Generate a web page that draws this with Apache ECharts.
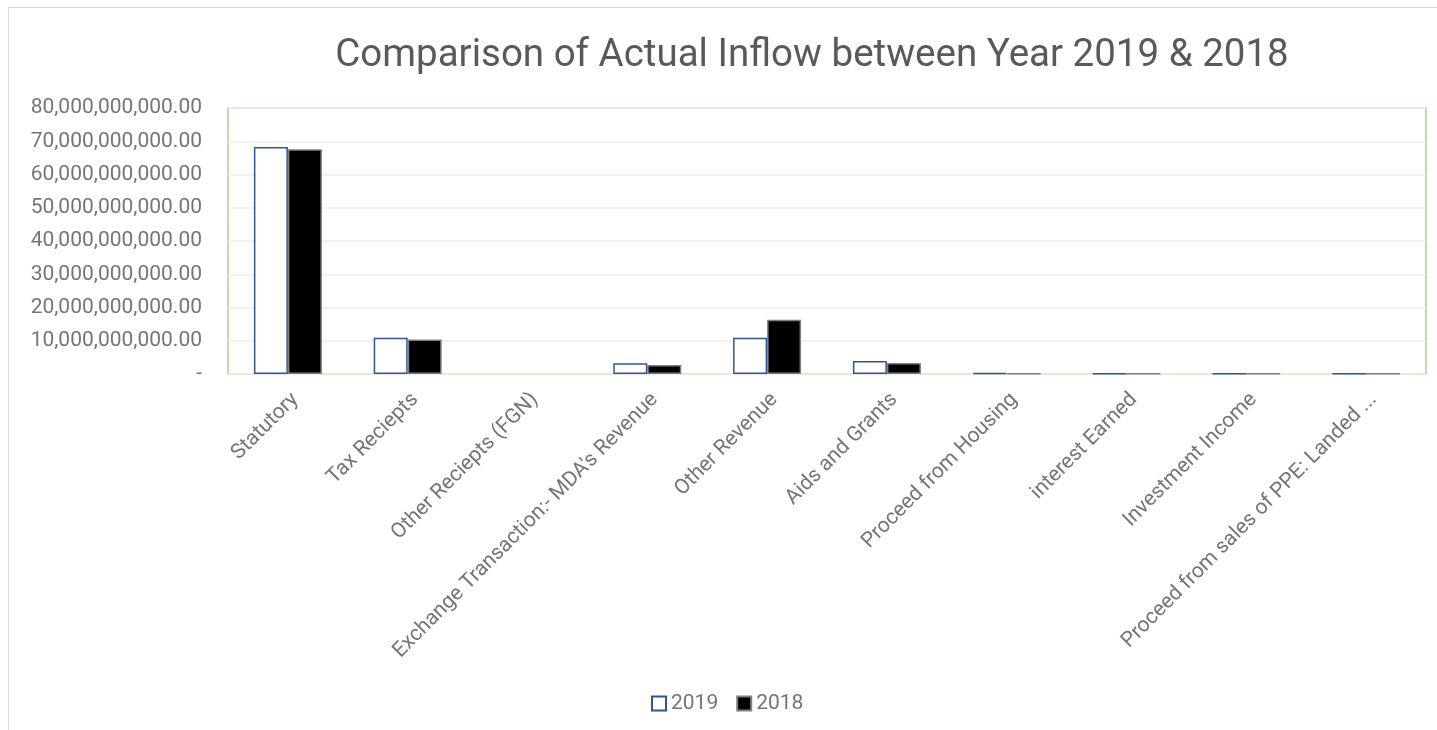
<!DOCTYPE html>
<html>
<head>
<meta charset="utf-8">
<script src="https://cdn.jsdelivr.net/npm/echarts@6/dist/echarts.min.js"></script>
<style>
  html, body { margin: 0; padding: 0; background: #fff; }
  #frame { position: absolute; left: 8px; top: 7px; width: 1440px; height: 740px; border-left: 1px solid #d9d9d9; border-top: 1px solid #d9d9d9; }
  #chart { position: absolute; left: 0; top: 0; width: 1437px; height: 730px; }
</style>
</head>
<body>
<div id="frame"></div>
<div id="chart"></div>
<script>
const categories = [
  'Statutory',
  'Tax Reciepts',
  'Other Reciepts (FGN)',
  "Exchange Transaction:- MDA's Revenue",
  'Other Revenue',
  'Aids and Grants',
  'Proceed from Housing',
  'interest Earned',
  'Investment Income',
  'Proceed from sales of PPE: Landed ...'
]
const values2019 = [68300000000, 10900000000, 0, 3200000000, 10900000000, 3900000000, 300000000, 80000000, 80000000, 80000000]
const values2018 = [67600000000, 10400000000, 0, 2700000000, 16300000000, 3300000000, 100000000, 80000000, 80000000, 80000000]
const yTicks = { min: 0, max: 80000000000, interval: 10000000000 }

function fmt(v){
  if (v === 0) return '-'
  return v.toLocaleString('en-US', {minimumFractionDigits: 2, maximumFractionDigits: 2})
}
// zero values draw nothing in the original, so drop the outline there
function toItems(arr){
  return arr.map(v => v === 0 ? { value: v, itemStyle: { borderWidth: 0 } } : v)
}

const chart = echarts.init(document.getElementById('chart'))
const titleColor = '#595959'
const labelColor = '#757575'
chart.setOption({
  textStyle: { fontFamily: 'Roboto' },
  title: {
    text: 'Comparison of Actual Inflow between Year 2019 & 2018',
    left: 807, top: 32, textAlign: 'center',
    textStyle: { fontSize: 38.5, fontWeight: 'normal', color: titleColor, fontFamily: 'Roboto' }
  },
  legend: {
    bottom: 11, left: 646,
    icon: 'rect',
    itemWidth: 14, itemHeight: 14, itemGap: 18,
    textStyle: { fontSize: 21, color: labelColor, fontFamily: 'Roboto' },
    data: ['2019', '2018']
  },
  grid: {
    left: 228, right: 11, top: 108, bottom: 356,
    show: true, borderColor: '#a9d18e', borderWidth: 1.5, containLabel: false
  },
  xAxis: {
    type: 'category',
    data: categories,
    axisLine: { show: false },
    axisTick: { show: false },
    axisLabel: { rotate: 45, fontSize: 21, color: labelColor, margin: 15, verticalAlign: 'top', interval: 0, fontFamily: 'Roboto' }
  },
  yAxis: {
    type: 'value',
    min: yTicks.min, max: yTicks.max, interval: yTicks.interval,
    axisLine: { show: false },
    axisTick: { show: false },
    splitLine: { lineStyle: { color: '#eeeeee', width: 1.5 } },
    axisLabel: { fontSize: 21, color: labelColor, margin: 26, formatter: fmt, fontFamily: 'Roboto' }
  },
  series: [
    {
      name: '2019', type: 'bar', data: toItems(values2019), barWidth: 34, barGap: '0%',
      itemStyle: { color: '#ffffff', borderColor: '#2f5597', borderWidth: 1.5 }
    },
    {
      name: '2018', type: 'bar', data: toItems(values2018), barWidth: 34,
      itemStyle: { color: '#000000', borderColor: '#7f7f7f', borderWidth: 1.5 }
    }
  ]
})
</script>
</body>
</html>
